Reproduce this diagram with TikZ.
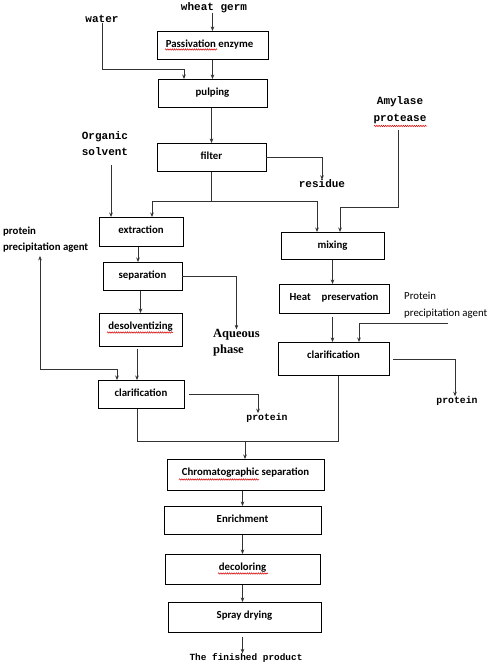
\documentclass[tikz,border=0pt]{standalone}
\usepackage{fontspec}
\setmainfont{Carlito}
\newfontfamily\monof{Liberation Mono}
\newfontfamily\seriff{Liberation Serif}
\usetikzlibrary{arrows.meta,decorations.pathmorphing,calc}
\begin{document}
\begin{tikzpicture}[x=1pt,y=-1pt,
  box/.style={draw=black, line width=0.9pt, anchor=north, inner xsep=0pt, inner ysep=0pt,
    text height=16pt, font=\bfseries\fontsize{10.8}{13}\selectfont, align=center},
  lbl/.style={font=\monof\bfseries\fontsize{11}{16.5}\selectfont, inner sep=0pt, align=center},
  slbl/.style={font=\monof\bfseries\fontsize{9.8}{12}\selectfont, inner sep=0pt},
  clbl/.style={inner sep=0pt, align=left, anchor=west},
  conn/.style={line width=0.9pt, draw=black!80},
  arr/.style={conn, -{Stealth[length=4.5pt,width=3.6pt]}},
  wavy/.style={draw=red!85!black, line width=0.5pt, decorate,
    decoration={snake, segment length=2.2pt, amplitude=0.7pt}}]
\useasboundingbox (0,0) rectangle (495,664);
\fill[white] (0,0) rectangle (495,664);

% boxes
\node[box, minimum width=111pt, text depth=12pt] (pass) at (212.5,31) {\hspace*{-6pt}Passivation enzyme};
\node[box, minimum width=109pt, text depth=12pt] (pulp) at (212.5,79) {pulping};
\node[box, minimum width=109pt, text depth=12pt] (filt) at (211.5,143) {filter};
\node[box, minimum width=84pt, text depth=13pt] (extr) at (141,217) {extraction};
\node[box, minimum width=79pt, text depth=12pt] (sep) at (142.5,262) {separation};
\node[box, minimum width=83pt, text depth=17pt] (desolv) at (140.5,313) {desolventizing};
\node[box, minimum width=86pt, text depth=12pt] (clarL) at (141,380) {clarification};
\node[box, minimum width=103pt, text depth=11pt] (mix) at (332.5,232) {mixing};
\node[box, minimum width=110pt, text depth=13pt] (heat) at (334,284) {Heat\hspace{11pt}preservation};
\node[box, minimum width=111pt, text depth=17pt] (clarR) at (333.5,342) {clarification};
\node[box, minimum width=157pt, text depth=15pt] (chrom) at (245.5,459) {Chromatographic separation};
\node[box, minimum width=157pt, text depth=12pt] (enr) at (242.5,506) {Enrichment};
\node[box, minimum width=155pt, text depth=14pt] (decol) at (242.5,554) {decoloring};
\node[box, minimum width=153pt, text depth=14pt] (spray) at (244.5,602) {Spray drying};

% labels
\node[lbl] (wheat) at (214,8) {wheat germ};
\node[lbl] (water) at (102,19) {water};
\node[lbl] (orgsol) at (105,143.5) {Organic\\solvent};
\node[lbl] (residue) at (322,184) {residue};
\node[lbl] (amyl) at (400,110) {Amylase\\protease};
\node[clbl, font=\bfseries\fontsize{10.8}{16}\selectfont] (ppaL) at (3,240) {protein\\precipitation agent};
\node[clbl, font=\seriff\bfseries\fontsize{12.5}{16}\selectfont] (aq) at (213,343) {Aqueous\\phase};
\node[slbl] (protL) at (267,418) {protein};
\node[clbl, font=\fontsize{10.8}{17}\selectfont] (ppaR) at (404,305.5) {Protein\\precipitation agent};
\node[slbl] (protR) at (457,401) {protein};
\node[slbl, font=\monof\bfseries\fontsize{9.4}{12}\selectfont] (fin) at (246,658) {The finished product};

% helper coordinates
\coordinate (wj) at (184,69);
\coordinate (j1) at (211.5,201);
\coordinate (osE) at (111,165);
\coordinate (amE) at (398,130);
\coordinate (amJ) at (340,207);
\coordinate (xs) at (138,0);
\coordinate (xc) at (137,0);
\coordinate (xl) at (40,369);
\coordinate (xq) at (117,0);
\coordinate (m1) at (137,441);
\coordinate (m2) at (338,441);
\coordinate (m3) at (245,441);
\coordinate (pr) at (448,323);
\coordinate (xr) at (359,0);

% connectors
\draw[arr] (wheat.south -| pass.north) -- (pass.north);
\draw[arr] (water.south) |- (wj) -- (wj |- pulp.north);
\draw[arr] (pass.south) -- (pulp.north);
\draw[arr] (pulp.south -| filt.north) -- (filt.north);
\draw[arr] (filt.east) -| (residue.north);
\draw[conn] (filt.south) -- (j1);
\draw[arr] (j1) -| ([xshift=11pt]extr.north);
\draw[arr] (j1) -| ([xshift=-15.5pt]mix.north);
\draw[arr] (osE) -- (osE |- extr.north);
\draw[arr] (amE) |- (amJ) -- (amJ |- mix.north);
\draw[arr] (xs |- extr.south) -- (xs |- sep.north);
\draw[arr] (sep.east) -| (aq.north);
\draw[arr] (sep.south -| desolv.north) -- (desolv.north);
\draw[arr] ([yshift=-2pt]xc |- desolv.south) -- (xc |- clarL.north);
\draw[arr] (xl) -- ([yshift=-3pt]xl |- ppaL.south);
\draw[arr] (xl) -| (xq |- clarL.north);
\draw[arr] ([xshift=5pt]clarL.east) -| ([xshift=-9pt]protL.north);
\draw[conn] (m1 |- clarL.south) -- (m1) -- (m2) -- (m2 |- clarR.south);
\draw[arr] (m3) -- (m3 |- chrom.north);
\draw[arr] (mix.south) -- (mix.south |- heat.north);
\draw[arr] ([yshift=-3pt]heat.south -| mix.south) -- (mix.south |- clarR.north);
\draw[arr] (pr) -| (xr |- clarR.north);
\draw[arr] ([xshift=4pt]clarR.east) -| ([xshift=-2pt]protR.north);
\draw[arr] (chrom.south -| enr.north) -- (enr.north);
\draw[arr] (enr.south) -- (decol.north);
\draw[arr] (decol.south) -- (decol.south |- spray.north);
\draw[arr] ([yshift=-4pt]spray.south -| enr.south) -- (enr.south |- fin.north);

% spell-check underlines
\draw[wavy] (165,49.5) -- (217,49.5);
\draw[wavy] (374,126) -- (427,126);
\draw[wavy] (107,332.5) -- (173,332.5);
\draw[wavy] (179,479.5) -- (259,479.5);
\draw[wavy] (218,573.5) -- (268,573.5);
\end{tikzpicture}
\end{document}
